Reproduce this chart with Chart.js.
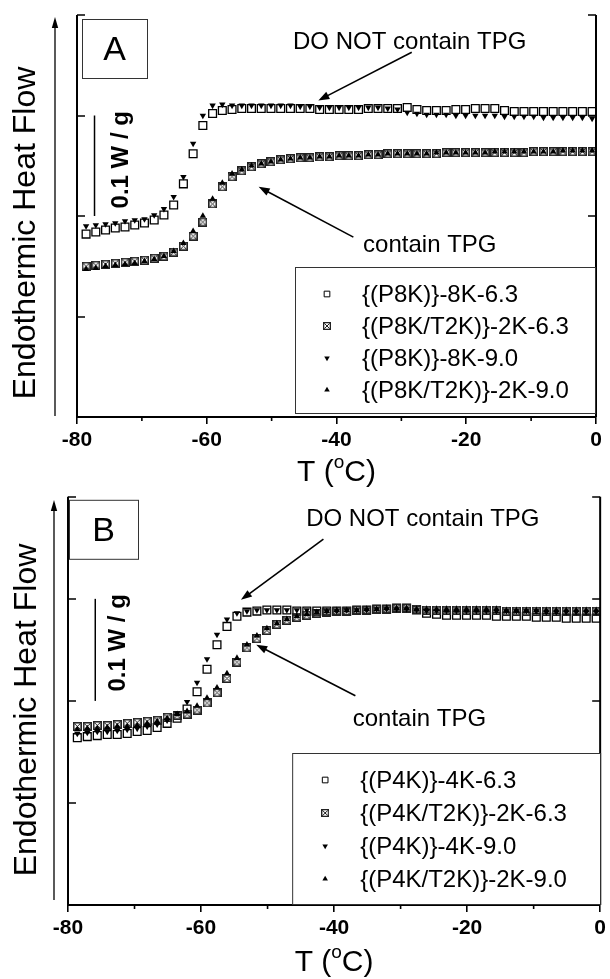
<!DOCTYPE html>
<html>
<head>
<meta charset="utf-8">
<script src="https://cdn.jsdelivr.net/npm/chart.js@4.4.1/dist/chart.umd.min.js"></script>
<style>
  body { margin: 0; background: #fff; }
  .panel { position: absolute; left: 0; }
</style>
</head>
<body>
<canvas id="chartA" class="panel" style="top:0" width="610" height="490"></canvas>
<canvas id="chartB" class="panel" style="top:490px" width="610" height="489"></canvas>
<script>
// temperature grid (°C), same for both panels
const temps = [-78.6, -77.1, -75.6, -74.1, -72.6, -71.1, -69.6, -68.1, -66.6, -65.1,
  -63.6, -62.1, -60.6, -59.1, -57.6, -56.1, -54.6, -53.1, -51.6, -50.1,
  -48.6, -47.1, -45.6, -44.1, -42.6, -41.1, -39.6, -38.1, -36.6, -35.1,
  -33.6, -32.1, -30.6, -29.1, -27.6, -26.1, -24.6, -23.1, -21.6, -20.1,
  -18.6, -17.1, -15.6, -14.1, -12.6, -11.1, -9.6, -8.1, -6.6, -5.1,
  -3.6, -2.1, -0.6];

const xTicks = [-80, -60, -40, -20, 0];
const xMinorTicks = [-70, -50, -30, -10];
const yTicks = [0.1, 0.2, 0.3, 0.4];

// panel A (W/g, offset)
const labelsA = ['{(P8K)}-8K-6.3', '{(P8K/T2K)}-2K-6.3', '{(P8K)}-8K-9.0', '{(P8K/T2K)}-2K-9.0'];
const p8k_63 = [0.182, 0.184, 0.186, 0.188, 0.189, 0.191, 0.193, 0.196, 0.201, 0.211,
  0.232, 0.262, 0.290, 0.302, 0.305, 0.306, 0.307, 0.307, 0.307, 0.307,
  0.307, 0.307, 0.307, 0.307, 0.306, 0.306, 0.306, 0.306, 0.306, 0.307,
  0.307, 0.307, 0.307, 0.308, 0.306, 0.305, 0.305, 0.305, 0.306, 0.306,
  0.307, 0.307, 0.307, 0.305, 0.304, 0.304, 0.304, 0.304, 0.304, 0.304,
  0.304, 0.304, 0.304];
const p8kT2k_63 = [0.150, 0.151, 0.152, 0.153, 0.154, 0.155, 0.156, 0.158, 0.160, 0.164,
  0.170, 0.180, 0.194, 0.212, 0.229, 0.239, 0.245, 0.249, 0.252, 0.254,
  0.256, 0.257, 0.258, 0.258, 0.259, 0.259, 0.260, 0.260, 0.260, 0.261,
  0.261, 0.262, 0.262, 0.262, 0.262, 0.262, 0.262, 0.263, 0.263, 0.263,
  0.263, 0.263, 0.263, 0.263, 0.263, 0.263, 0.264, 0.264, 0.264, 0.264,
  0.264, 0.264, 0.264];
const p8k_90 = [0.190, 0.191, 0.192, 0.193, 0.195, 0.196, 0.197, 0.201, 0.207, 0.219,
  0.239, 0.272, 0.300, 0.310, 0.311, 0.310, 0.310, 0.310, 0.310, 0.310,
  0.310, 0.310, 0.309, 0.309, 0.308, 0.308, 0.308, 0.308, 0.308, 0.308,
  0.308, 0.307, 0.306, 0.303, 0.302, 0.301, 0.301, 0.301, 0.300, 0.300,
  0.300, 0.300, 0.300, 0.299, 0.299, 0.299, 0.299, 0.298, 0.298, 0.298,
  0.298, 0.298, 0.297];
const p8kT2k_90 = [0.147, 0.148, 0.150, 0.151, 0.152, 0.153, 0.155, 0.157, 0.160, 0.165,
  0.173, 0.185, 0.200, 0.217, 0.233, 0.242, 0.246, 0.250, 0.252, 0.254,
  0.256, 0.257, 0.258, 0.258, 0.259, 0.259, 0.260, 0.260, 0.260, 0.261,
  0.261, 0.262, 0.262, 0.262, 0.262, 0.262, 0.263, 0.263, 0.263, 0.263,
  0.263, 0.263, 0.264, 0.264, 0.264, 0.264, 0.264, 0.264, 0.264, 0.265,
  0.265, 0.265, 0.265];

// panel B
const labelsB = ['{(P4K)}-4K-6.3', '{(P4K/T2K)}-2K-6.3', '{(P4K)}-4K-9.0', '{(P4K/T2K)}-2K-9.0'];
const p4k_63 = [0.164, 0.165, 0.166, 0.167, 0.167, 0.168, 0.170, 0.171, 0.174, 0.178,
  0.183, 0.192, 0.209, 0.231, 0.255, 0.273, 0.283, 0.287, 0.288, 0.289,
  0.289, 0.289, 0.288, 0.288, 0.288, 0.288, 0.288, 0.288, 0.289, 0.289,
  0.290, 0.290, 0.291, 0.291, 0.289, 0.286, 0.285, 0.284, 0.284, 0.284,
  0.284, 0.284, 0.283, 0.283, 0.283, 0.283, 0.282, 0.282, 0.282, 0.281,
  0.281, 0.281, 0.281];
const p4kT2k_63 = [0.175, 0.175, 0.176, 0.176, 0.177, 0.178, 0.179, 0.180, 0.181, 0.184,
  0.186, 0.187, 0.191, 0.198, 0.208, 0.222, 0.238, 0.252, 0.261, 0.269,
  0.275, 0.279, 0.282, 0.284, 0.286, 0.287, 0.288, 0.288, 0.289, 0.289,
  0.290, 0.290, 0.291, 0.291, 0.290, 0.289, 0.289, 0.289, 0.289, 0.289,
  0.289, 0.289, 0.289, 0.288, 0.288, 0.288, 0.288, 0.288, 0.288, 0.288,
  0.288, 0.288, 0.288];
const p4k_90 = [0.168, 0.169, 0.170, 0.170, 0.171, 0.172, 0.173, 0.175, 0.177, 0.181,
  0.188, 0.199, 0.218, 0.241, 0.265, 0.280, 0.286, 0.288, 0.289, 0.289,
  0.289, 0.289, 0.289, 0.289, 0.288, 0.288, 0.288, 0.289, 0.289, 0.289,
  0.290, 0.290, 0.290, 0.290, 0.289, 0.288, 0.288, 0.288, 0.288, 0.288,
  0.288, 0.288, 0.288, 0.288, 0.288, 0.288, 0.288, 0.287, 0.287, 0.287,
  0.287, 0.287, 0.287];
const p4kT2k_90 = [0.172, 0.173, 0.173, 0.174, 0.175, 0.175, 0.176, 0.178, 0.180, 0.183,
  0.187, 0.190, 0.195, 0.203, 0.213, 0.227, 0.242, 0.255, 0.264, 0.271,
  0.276, 0.280, 0.283, 0.285, 0.287, 0.288, 0.289, 0.289, 0.289, 0.290,
  0.290, 0.291, 0.291, 0.291, 0.290, 0.290, 0.290, 0.290, 0.290, 0.290,
  0.290, 0.290, 0.290, 0.289, 0.289, 0.289, 0.289, 0.289, 0.289, 0.289,
  0.289, 0.289, 0.289];

const FONT = "'Liberation Sans', Arial, sans-serif";

// square with an X through it
function crossedSquare(size, lw) {
  const c = document.createElement('canvas');
  c.width = size; c.height = size;
  const g = c.getContext('2d');
  g.strokeStyle = '#222';
  g.lineWidth = lw;
  g.strokeRect(lw / 2, lw / 2, size - lw, size - lw);
  g.lineWidth = 1;
  g.beginPath();
  g.moveTo(lw, lw); g.lineTo(size - lw, size - lw);
  g.moveTo(size - lw, lw); g.lineTo(lw, size - lw);
  g.stroke();
  return c;
}

const styles = [
  { pointStyle: 'rect', rotation: 0, radius: 5.5, legendRadius: 4, fill: 'rgba(255,255,255,0)', border: 1.3, order: 3 },
  { pointStyle: crossedSquare(9, 1.6), legendStyle: crossedSquare(8, 1.3), rotation: 0, radius: 4, fill: '#000', border: 0, order: 2 },
  { pointStyle: 'triangle', rotation: 180, radius: 3.7, legendRadius: 3.2, fill: '#000', border: 0, order: 1 },
  { pointStyle: 'triangle', rotation: 0, radius: 3.7, legendRadius: 3.2, fill: '#000', border: 0, order: 0 }
];

function arrow(ctx, x1, y1, x2, y2, len, half) {
  const a = Math.atan2(y2 - y1, x2 - x1);
  const c = Math.cos(a), s = Math.sin(a);
  ctx.beginPath();
  ctx.moveTo(x1, y1);
  ctx.lineTo(x2 - len * 0.7 * c, y2 - len * 0.7 * s);
  ctx.stroke();
  ctx.beginPath();
  ctx.moveTo(x2, y2);
  ctx.lineTo(x2 - len * c + half * s, y2 - len * s - half * c);
  ctx.lineTo(x2 - len * c - half * s, y2 - len * s + half * c);
  ctx.closePath();
  ctx.fill();
}

const decor = {
  id: 'decor',
  afterDraw(chart, args, o) {
    const { ctx, chartArea: ca, scales: { x, y } } = chart;
    const px = t => x.getPixelForValue(t);
    const py = v => y.getPixelForValue(v);
    ctx.save();
    ctx.strokeStyle = '#000';
    ctx.fillStyle = '#000';

    // left and right axes
    ctx.lineWidth = 2;
    ctx.beginPath();
    ctx.moveTo(ca.left, ca.top); ctx.lineTo(ca.left, ca.bottom);
    ctx.moveTo(ca.right, ca.top); ctx.lineTo(ca.right, ca.bottom);
    ctx.stroke();
    // inward y ticks on both sides
    ctx.lineWidth = 1.6;
    ctx.beginPath();
    yTicks.forEach(v => {
      const yy = Math.round(py(v));
      ctx.moveTo(ca.left, yy); ctx.lineTo(ca.left + 8, yy);
      ctx.moveTo(ca.right, yy); ctx.lineTo(ca.right - 8, yy);
    });
    // minor x ticks
    xMinorTicks.forEach(t => {
      ctx.moveTo(px(t), ca.bottom); ctx.lineTo(px(t), ca.bottom + 4);
    });
    ctx.stroke();

    // panel letter box
    ctx.lineWidth = 1;
    ctx.strokeStyle = '#333';
    ctx.fillStyle = '#fff';
    ctx.fillRect(ca.left + o.box[0], ca.top + o.box[1], o.box[2], o.box[3]);
    ctx.strokeRect(ca.left + o.box[0] + 0.5, ca.top + o.box[1] + 0.5, o.box[2], o.box[3]);
    ctx.fillStyle = '#000';
    ctx.font = '34px ' + FONT;
    ctx.textAlign = 'center';
    ctx.textBaseline = 'middle';
    ctx.fillText(o.letter, ca.left + o.box[0] + o.box[2] / 2, ca.top + o.box[1] + o.box[3] / 2 + 2);

    // annotations with arrows
    ctx.font = '24px ' + FONT;
    ctx.textAlign = 'left';
    ctx.strokeStyle = '#000';
    ctx.lineWidth = 1.6;
    o.notes.forEach(n => {
      ctx.fillText(n.text, px(n.at[0]), py(n.at[1]));
      arrow(ctx, px(n.from[0]), py(n.from[1]), px(n.to[0]), py(n.to[1]), 11, 4);
    });

    // 0.1 W/g scale bar
    ctx.lineWidth = 1.5;
    ctx.beginPath();
    ctx.moveTo(px(o.bar.t), py(0.3));
    ctx.lineTo(px(o.bar.t), py(0.2));
    ctx.stroke();
    ctx.save();
    ctx.translate(px(o.bar.labelT), py(0.25) + o.bar.dy);
    ctx.rotate(-Math.PI / 2);
    ctx.font = 'bold 24px ' + FONT;
    ctx.textAlign = 'center';
    ctx.fillText('0.1 W / g', 0, 0);
    ctx.restore();

    // y title and arrow beside it
    ctx.save();
    ctx.translate(o.yTitle.x, o.yTitle.y);
    ctx.rotate(-Math.PI / 2);
    ctx.font = '32px ' + FONT;
    ctx.textAlign = 'center';
    ctx.fillText('Endothermic Heat Flow', 0, 0);
    ctx.restore();
    ctx.lineWidth = 1.3;
    arrow(ctx, o.yArrow.x, o.yArrow.y1, o.yArrow.x, o.yArrow.y2, 11, 3.2);

    // x title T (°C)
    const big = '30px ' + FONT, small = '19px ' + FONT;
    ctx.font = big;
    const w1 = ctx.measureText('T (').width, w3 = ctx.measureText('C)').width;
    ctx.font = small;
    const w2 = ctx.measureText('o').width;
    let xx = (ca.left + ca.right) / 2 - (w1 + w2 + w3) / 2;
    const base = ca.bottom + o.xTitleDy;
    ctx.textBaseline = 'alphabetic';
    ctx.font = big; ctx.fillText('T (', xx, base); xx += w1;
    ctx.font = small; ctx.fillText('o', xx, base - 13); xx += w2;
    ctx.font = big; ctx.fillText('C)', xx, base);

    // legend box
    const L = o.legend;
    const lx = ca.right - L.w - L.right, ly = ca.bottom - L.h - L.bottom;
    ctx.fillStyle = '#fff';
    ctx.fillRect(lx, ly, L.w, L.h);
    ctx.strokeStyle = '#333';
    ctx.lineWidth = 1;
    ctx.strokeRect(lx + 0.5, ly + 0.5, L.w, L.h);
    ctx.font = '24px ' + FONT;
    ctx.textBaseline = 'middle';
    chart.data.datasets.forEach((ds, i) => {
      const st = styles[i];
      const yy = ly + L.first + i * L.step;
      ctx.fillStyle = st.fill === '#000' ? '#000' : 'rgba(255,255,255,0)';
      ctx.strokeStyle = '#000';
      Chart.helpers.drawPoint(ctx, {
        pointStyle: st.legendStyle || st.pointStyle,
        rotation: st.rotation,
        radius: st.legendRadius || st.radius,
        borderWidth: st.border
      }, lx + L.marker, yy);
      ctx.fillStyle = '#000';
      ctx.fillText(ds.label, lx + L.text, yy + 1);
    });
    ctx.restore();
  }
};

function makeChart(id, series, labels, geo) {
  const datasets = series.map((vals, i) => ({
    label: labels[i],
    data: temps.map((t, k) => ({ x: t, y: vals[k] })),
    pointStyle: styles[i].pointStyle,
    rotation: styles[i].rotation,
    pointRadius: styles[i].radius,
    backgroundColor: styles[i].fill,
    borderColor: '#000',
    borderWidth: styles[i].border,
    order: styles[i].order,
    showLine: false
  }));
  return new Chart(document.getElementById(id), {
    type: 'scatter',
    data: { datasets },
    plugins: [decor],
    options: {
      responsive: false,
      animation: false,
      devicePixelRatio: 1,
      layout: { padding: geo.padding },
      plugins: {
        legend: { display: false },
        tooltip: { enabled: false },
        decor: geo.decor
      },
      scales: {
        x: {
          type: 'linear',
          min: -80,
          max: 0,
          afterFit: s => { s.height = geo.xHeight; },
          afterBuildTicks: s => { s.ticks = xTicks.map(v => ({ value: v })); },
          ticks: {
            autoSkip: false,
            maxRotation: 0,
            padding: 4,
            color: '#000',
            font: { family: FONT, size: 21, weight: 'bold' },
            callback: v => String(v)
          },
          grid: { drawOnChartArea: false, drawTicks: true, tickLength: 7, color: '#000', lineWidth: 1.6 },
          border: { display: true, color: '#000', width: 2 }
        },
        y: {
          display: false,
          min: 0,
          max: 0.4
        }
      }
    }
  });
}

makeChart('chartA', [p8k_63, p8kT2k_63, p8k_90, p8kT2k_90], labelsA, {
  padding: { left: 77, right: 14, top: 15, bottom: 0 },
  xHeight: 73,
  decor: {
    letter: 'A',
    box: [5, 4, 65, 59],
    notes: [
      { text: 'DO NOT contain TPG', at: [-46.7, 0.373], from: [-28.4, 0.363], to: [-42.8, 0.315] },
      { text: 'contain TPG', at: [-35.9, 0.171], from: [-37.4, 0.179], to: [-52.0, 0.229] }
    ],
    bar: { t: -77.3, labelT: -73.1, dy: -6 },
    yTitle: { x: 26, y: 233 },
    yArrow: { x: 55, y1: 416, y2: 17 },
    xTitleDy: 64,
    legend: { w: 300, h: 146, right: 1, bottom: 4, first: 27, step: 32, marker: 32, text: 67 }
  }
});

makeChart('chartB', [p4k_63, p4kT2k_63, p4k_90, p4kT2k_90], labelsB, {
  padding: { left: 68, right: 8, top: 5, bottom: 0 },
  xHeight: 74,
  decor: {
    letter: 'B',
    box: [1, 3, 69, 59],
    notes: [
      { text: 'DO NOT contain TPG', at: [-44.2, 0.378], from: [-41.6, 0.3585], to: [-54.0, 0.299] },
      { text: 'contain TPG', at: [-37.2, 0.182], from: [-36.8, 0.205], to: [-51.7, 0.255] }
    ],
    bar: { t: -75.9, labelT: -72.5, dy: -7 },
    yTitle: { x: 27, y: 220 },
    yArrow: { x: 54, y1: 410, y2: 10 },
    xTitleDy: 66,
    legend: { w: 308, h: 151, right: 0, bottom: 1, first: 27, step: 33, marker: 33, text: 68 }
  }
});
</script>
</body>
</html>
